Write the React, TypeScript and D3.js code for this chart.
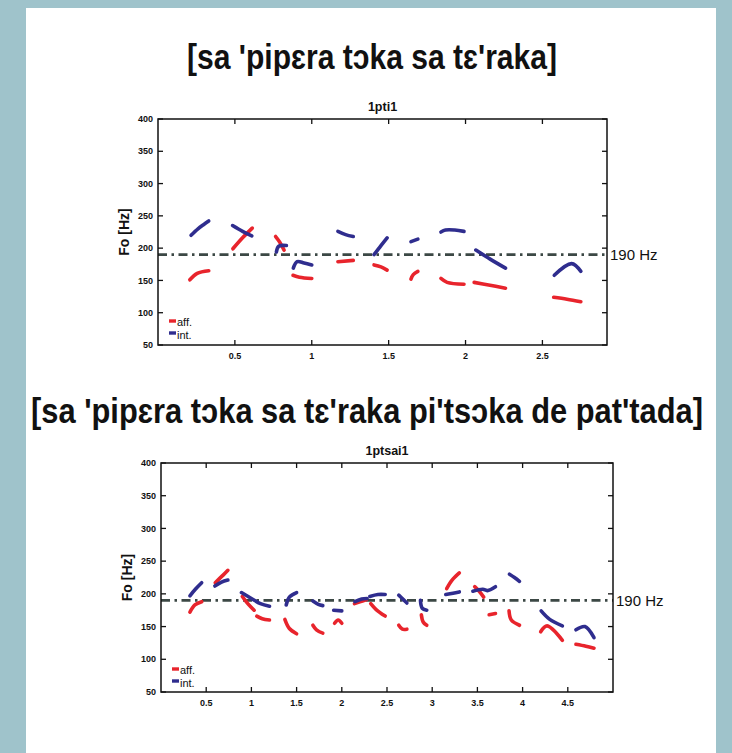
import React from 'react';
import * as d3 from 'd3';

// ---------- data ----------
const yTicks = [50, 100, 150, 200, 250, 300, 350, 400];
const xTicks1 = [0.5, 1, 1.5, 2, 2.5];
const xTicks2 = [0.5, 1, 1.5, 2, 2.5, 3, 3.5, 4, 4.5];
const refHz = 190;
const refLabel = '190 Hz';
const title1 = "[sa 'pipɛra tɔka sa tɛ'raka]";
const title2 = "[sa 'pipɛra tɔka sa tɛ'raka pi'tsɔka de pat'tada]";
const sub1 = '1pti1';
const sub2 = '1ptsai1';
const legendLabels = ['aff.', 'int.'];
const yAxisLabel = 'Fo [Hz]';

type Seg = [number, number][];

// plot 1 (1pti1): time (s), F0 (Hz)
const aff1: Seg[] = [
  [[0.207, 151], [0.255, 161], [0.33, 165]],
  [[0.487, 199], [0.55, 216], [0.613, 231]],
  [[0.765, 218], [0.79, 210], [0.82, 197]],
  [[0.878, 158], [0.92, 155], [1.0, 153]],
  [[1.17, 179], [1.27, 181]],
  [[1.405, 174], [1.45, 171], [1.49, 166]],
  [[1.645, 152], [1.66, 159], [1.69, 164]],
  [[1.84, 153], [1.88, 147], [1.99, 144]],
  [[2.056, 147], [2.15, 143], [2.26, 138]],
  [[2.573, 124], [2.66, 121], [2.75, 117]],
];
const int1: Seg[] = [
  [[0.215, 220], [0.26, 230], [0.3, 237], [0.33, 242]],
  [[0.485, 235], [0.55, 226], [0.61, 219]],
  [[0.77, 194], [0.785, 203], [0.835, 204]],
  [[0.88, 169], [0.905, 179], [0.95, 177], [1.0, 174]],
  [[1.17, 226], [1.22, 221], [1.27, 218]],
  [[1.405, 190], [1.45, 204], [1.49, 216]],
  [[1.645, 210], [1.69, 214]],
  [[1.84, 225], [1.87, 228], [1.93, 228], [1.99, 226]],
  [[2.067, 197], [2.16, 183], [2.26, 169]],
  [[2.577, 158], [2.69, 176], [2.75, 164]],
];

// plot 2 (1ptsai1)
const aff2: Seg[] = [
  [[0.32, 172], [0.375, 183], [0.45, 188]],
  [[0.6, 217], [0.69, 229], [0.74, 236]],
  [[0.9, 196], [0.96, 185], [1.03, 175]],
  [[1.06, 166], [1.12, 162], [1.2, 160]],
  [[1.37, 161], [1.42, 147], [1.5, 139]],
  [[1.68, 152], [1.72, 145], [1.79, 140]],
  [[1.92, 155], [1.96, 160], [2.0, 155]],
  [[2.14, 185], [2.2, 188], [2.27, 191]],
  [[2.32, 185], [2.38, 176], [2.48, 166]],
  [[2.63, 152], [2.67, 146], [2.72, 146]],
  [[2.88, 168], [2.9, 157], [2.94, 152]],
  [[3.16, 208], [3.22, 221], [3.3, 232]],
  [[3.47, 211], [3.52, 204], [3.57, 195]],
  [[3.63, 168], [3.7, 170]],
  [[3.85, 174], [3.875, 160], [3.965, 152]],
  [[4.2, 142], [4.27, 151], [4.44, 129]],
  [[4.59, 123], [4.7, 120], [4.79, 117]],
];
const int2: Seg[] = [
  [[0.32, 197], [0.38, 207], [0.45, 217]],
  [[0.596, 212], [0.67, 218], [0.74, 221]],
  [[0.89, 202], [1.0, 193], [1.1, 185], [1.2, 181]],
  [[1.385, 183], [1.42, 195], [1.5, 202]],
  [[1.68, 189], [1.74, 184], [1.79, 182]],
  [[1.91, 175], [2.0, 174]],
  [[2.145, 188], [2.22, 192], [2.28, 193]],
  [[2.31, 196], [2.4, 199], [2.48, 199]],
  [[2.63, 198], [2.69, 190], [2.72, 186]],
  [[2.87, 190], [2.89, 178], [2.94, 175]],
  [[3.15, 199], [3.23, 201], [3.3, 203]],
  [[3.45, 204], [3.56, 207], [3.61, 205], [3.7, 211]],
  [[3.855, 230], [3.91, 225], [3.965, 219]],
  [[4.205, 174], [4.3, 161], [4.44, 151]],
  [[4.59, 145], [4.69, 150], [4.79, 133]],
];

// ---------- styles ----------
const RED = '#e8242c';
const BLUE = '#2f2d8e';
const REF = '#3c4845';
const FRAME = '#9fc3cb';
const FONT = "'Liberation Sans', Arial, sans-serif";

type Box = { l: number; t: number; r: number; b: number };

function Plot(props: {
  box: Box;
  xMax: number;
  xTicks: number[];
  aff: Seg[];
  int: Seg[];
  sub: string;
  subY: number;
  ylabX: number;
  legY: number;
}) {
  const { box, xMax, xTicks, aff, int, sub, subY, ylabX, legY } = props;
  const x = d3.scaleLinear().domain([0, xMax]).range([box.l, box.r]);
  const y = d3.scaleLinear().domain([50, 400]).range([box.b, box.t]);
  const line = d3
    .line<[number, number]>()
    .x((d) => x(d[0]))
    .y((d) => y(d[1]))
    .curve(d3.curveCatmullRom);
  const tl = 5;
  const cx = (box.l + box.r) / 2;
  const cy = (box.t + box.b) / 2;
  return (
    <g>
      <text x={cx} y={subY} textAnchor="middle" fontFamily={FONT} fontWeight="bold" fontSize={12.5} fill="#111">
        {sub}
      </text>
      {/* reference line */}
      <line x1={box.l} x2={box.r} y1={y(refHz)} y2={y(refHz)} stroke={REF} strokeWidth={2.6} strokeDasharray="9,4.5,2.5,4.5" />
      <text x={box.r + 3} y={y(refHz) + 5.5} fontFamily={FONT} fontSize={15} fill="#111">
        {refLabel}
      </text>
      {/* data */}
      {aff.map((s, i) => (
        <path key={'a' + i} d={line(s) || ''} fill="none" stroke={RED} strokeWidth={3.6} strokeLinecap="round" strokeLinejoin="round" />
      ))}
      {int.map((s, i) => (
        <path key={'b' + i} d={line(s) || ''} fill="none" stroke={BLUE} strokeWidth={3.6} strokeLinecap="round" strokeLinejoin="round" />
      ))}
      {/* frame */}
      <rect x={box.l} y={box.t} width={box.r - box.l} height={box.b - box.t} fill="none" stroke="#111" strokeWidth={1.5} />
      {yTicks.map((v) => (
        <g key={'y' + v}>
          <line x1={box.l} x2={box.l + tl} y1={y(v)} y2={y(v)} stroke="#111" strokeWidth={1.3} />
          <line x1={box.r} x2={box.r - tl} y1={y(v)} y2={y(v)} stroke="#111" strokeWidth={1.3} />
          <text x={box.l - 5} y={y(v) + 3.2} textAnchor="end" fontFamily={FONT} fontWeight="bold" fontSize={9} fill="#111">
            {v}
          </text>
        </g>
      ))}
      {xTicks.map((v) => (
        <g key={'x' + v}>
          <line x1={x(v)} x2={x(v)} y1={box.b} y2={box.b - tl} stroke="#111" strokeWidth={1.3} />
          <line x1={x(v)} x2={x(v)} y1={box.t} y2={box.t + tl} stroke="#111" strokeWidth={1.3} />
          <text x={x(v)} y={box.b + 14} textAnchor="middle" fontFamily={FONT} fontWeight="bold" fontSize={9} fill="#111">
            {String(v)}
          </text>
        </g>
      ))}
      <text
        transform={`translate(${ylabX},${cy}) rotate(-90)`}
        textAnchor="middle"
        fontFamily={FONT}
        fontWeight="bold"
        fontSize={14}
        fill="#111"
      >
        {yAxisLabel}
      </text>
      {/* legend */}
      <line x1={box.l + 11} x2={box.l + 18} y1={legY} y2={legY} stroke={RED} strokeWidth={3.4} />
      <text x={box.l + 19} y={legY + 5} fontFamily={FONT} fontSize={11} fill="#111">
        {legendLabels[0]}
      </text>
      <line x1={box.l + 11} x2={box.l + 18} y1={legY + 12} y2={legY + 12} stroke={BLUE} strokeWidth={3.4} />
      <text x={box.l + 19} y={legY + 17.5} fontFamily={FONT} fontSize={11} fill="#111">
        {legendLabels[1]}
      </text>
    </g>
  );
}

export default function App() {
  const W = 732;
  const H = 753;
  return (
    <svg width={W} height={H} style={{ position: 'absolute', left: 0, top: 0, display: 'block' }}>
      <rect x={0} y={0} width={W} height={H} fill={FRAME} />
      <rect x={26} y={8} width={690} height={H - 8} fill="#fff" />
      <g transform="translate(372,69) scale(1,1.38)">
        <text x={0} y={0} textAnchor="middle" fontFamily={FONT} fontWeight="bold" fontSize={26} fill="#111" textLength={370} lengthAdjust="spacingAndGlyphs">
          {title1}
        </text>
      </g>
      <g transform="translate(367,423) scale(1,1.38)">
        <text x={0} y={0} textAnchor="middle" fontFamily={FONT} fontWeight="bold" fontSize={26} fill="#111" textLength={672} lengthAdjust="spacingAndGlyphs">
          {title2}
        </text>
      </g>
      <Plot box={{ l: 158, t: 119, r: 607, b: 345 }} xMax={2.92} xTicks={xTicks1} aff={aff1} int={int1} sub={sub1} subY={111} ylabX={129} legY={321} />
      <Plot box={{ l: 161, t: 463, r: 613, b: 692 }} xMax={5} xTicks={xTicks2} aff={aff2} int={int2} sub={sub2} subY={455} ylabX={132} legY={669} />
    </svg>
  );
}
